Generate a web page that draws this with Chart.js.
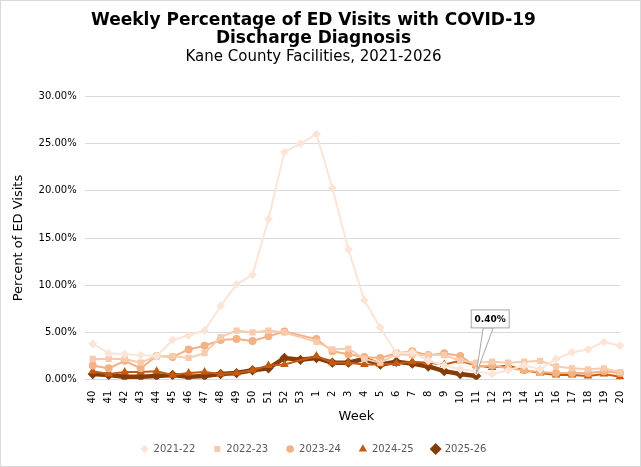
<!DOCTYPE html>
<html><head><meta charset="utf-8">
<script src="https://cdn.jsdelivr.net/npm/chart.js@4.4.0/dist/chart.umd.min.js"></script>
<style>body{margin:0;background:#fff}#wrap{width:641px;height:467px;position:relative;border:1px solid #d9d9d9;box-sizing:border-box}</style>
</head><body><div id="wrap"><canvas id="c"></canvas></div>
<script>
var weeks = ["40","41","42","43","44","45","46","47","48","49","50","51","52","53","1","2","3","4","5","6","7","8","9","10","11","12","13","14","15","16","17","18","19","20"];
var s2122 = [3.8,2.8,2.7,2.6,2.5,4.2,4.7,5.2,7.8,10.1,11.1,17.0,24.1,25.0,26.0,20.3,13.8,8.4,5.5,2.8,2.9,2.0,1.5,1.1,0.9,0.6,1.0,1.5,1.1,2.2,2.9,3.2,4.0,3.6];
var s2223 = [2.2,2.2,2.2,1.8,2.5,2.5,2.3,2.8,4.5,5.2,5.0,5.2,5.0,null,4.0,3.2,3.3,2.2,1.8,2.7,2.6,2.6,2.6,2.0,1.8,1.9,1.8,1.9,2.0,1.4,1.2,1.1,1.2,0.8];
var s2324 = [1.5,1.2,2.0,1.2,2.5,2.4,3.2,3.6,4.2,4.3,4.1,4.6,5.1,null,4.3,3.0,2.7,2.4,2.3,2.8,3.0,2.6,2.8,2.5,1.4,1.5,1.2,1.0,0.8,0.7,0.7,0.7,0.9,0.7];
var s2425 = [0.9,0.6,0.8,0.8,0.9,0.5,0.7,0.8,0.6,0.7,1.0,1.5,1.6,null,2.5,1.8,1.8,1.6,1.6,1.7,1.9,1.8,1.6,2.0,1.5,1.3,1.5,1.0,0.7,0.5,0.5,0.4,0.6,0.3];
var s2526 = [0.6,0.5,0.3,0.3,0.4,0.5,0.3,0.4,0.6,0.7,1.0,1.2,2.3,2.1,2.3,1.8,1.8,2.2,1.6,1.9,1.7,1.4,0.9,0.6,0.4];
var seriesNames = ["2021-22","2022-23","2023-24","2024-25","2025-26"];
var colors = ["#fce4d6","#f8cbad","#f4b183","#c55a11","#843c0c"];
var shapes = ["rectRot","rect","circle","triangle","rectRot"];
var allData = [s2122,s2223,s2324,s2425,s2526];

var calloutPlugin = {
  id: "callout",
  afterDatasetsDraw: function (chart) {
    var meta = chart.getDatasetMeta(4);
    var idx = s2526.length - 1;
    var pt = meta.data[idx];
    var ctx = chart.ctx;
    var bx = pt.x - 5, by = pt.y - 66, bw = 38, bh = 18;
    ctx.save();
    ctx.strokeStyle = "#a6a6a6"; ctx.lineWidth = 1;
    ctx.beginPath(); ctx.moveTo(pt.x, pt.y - 2); ctx.lineTo(bx + 12, by + bh); ctx.lineTo(bx + 22, by + bh); ctx.closePath();
    ctx.fillStyle = "#fff"; ctx.fill(); ctx.stroke();
    ctx.fillRect(bx, by, bw, bh); ctx.strokeRect(bx, by, bw, bh);
    ctx.fillStyle = "#000"; ctx.font = "bold 9px Verdana, 'DejaVu Sans'";
    ctx.textAlign = "center"; ctx.textBaseline = "middle";
    ctx.fillText((s2526[idx]).toFixed(2) + "%", bx + bw / 2, by + bh / 2 + 1);
    ctx.restore();
  }
};

new Chart(document.getElementById("c"), {
  type: "line",
  data: {
    labels: weeks,
    datasets: allData.map(function (d, i) {
      return {
        label: seriesNames[i], data: d, borderColor: colors[i], backgroundColor: colors[i],
        borderWidth: i == 4 ? 4.5 : 2, pointStyle: shapes[i], pointRadius: i == 4 ? 2 : 3,
        pointHoverRadius: 3, spanGaps: true, tension: 0
      };
    })
  },
  options: {
    responsive: true, maintainAspectRatio: false, animation: false,
    layout: { padding: { left: 6, right: 20, top: 0, bottom: 2 } },
    plugins: {
      title: { display: true, text: ["Weekly Percentage of ED Visits with COVID-19", "Discharge Diagnosis"],
        font: { family: "Verdana, 'DejaVu Sans'", size: 17, weight: "bold", lineHeight: 1.1 }, color: "#000", padding: { top: 10, bottom: 0 } },
      subtitle: { display: true, text: "Kane County Facilities, 2021-2026",
        font: { family: "Verdana, 'DejaVu Sans'", size: 15 }, color: "#000", padding: { bottom: 30 } },
      legend: { position: "bottom", labels: { usePointStyle: true, boxWidth: 8, boxHeight: 4, color: "#595959",
        font: { family: "Verdana, 'DejaVu Sans'", size: 10 }, padding: 18 } },
      tooltip: { enabled: false }
    },
    scales: {
      x: { title: { display: true, text: "Week", color: "#000", font: { family: "Verdana, 'DejaVu Sans'", size: 13 }, padding: 2 },
        grid: { display: false }, border: { color: "#d9d9d9" },
        ticks: { color: "#000", maxRotation: 90, minRotation: 90, autoSkip: false, font: { family: "Verdana, 'DejaVu Sans'", size: 10 } } },
      y: { min: 0, max: 30, title: { display: true, text: "Percent of ED Visits", color: "#000", font: { family: "Verdana, 'DejaVu Sans'", size: 13 } },
        grid: { color: "#d9d9d9" }, border: { display: false },
        ticks: { stepSize: 5, color: "#000", padding: 8, font: { family: "Verdana, 'DejaVu Sans'", size: 10 },
          callback: function (v) { return v.toFixed(2) + "%"; } } }
    }
  },
  plugins: [calloutPlugin]
});
</script></body></html>
